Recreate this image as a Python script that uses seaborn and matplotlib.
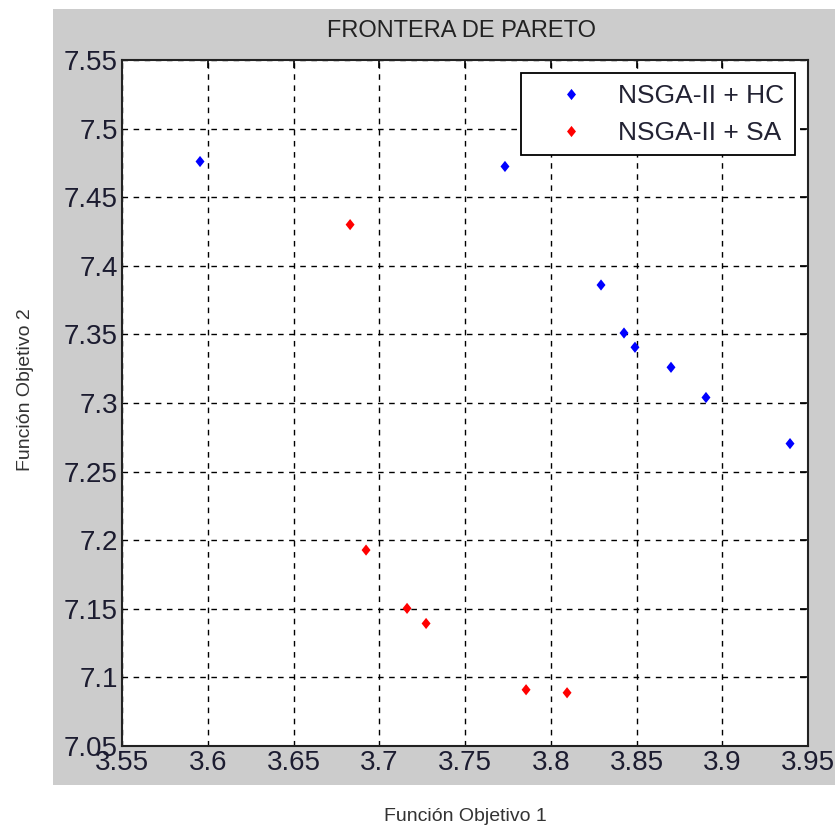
import numpy as np
import pandas as pd
import matplotlib
matplotlib.use('Agg')
import matplotlib.pyplot as plt
from matplotlib.patches import Rectangle
from matplotlib import font_manager
import seaborn as sns

# pareto points
hc_f1 = [3.5955, 3.7733, 3.8293, 3.8427, 3.8491, 3.8701, 3.8905, 3.9395]
hc_f2 = [7.476, 7.4724, 7.386, 7.351, 7.3406, 7.326, 7.304, 7.2704]
sa_f1 = [3.683, 3.6923, 3.7162, 3.7273, 3.7856, 3.8095]
sa_f2 = [7.430, 7.1928, 7.1503, 7.1393, 7.091, 7.0888]
series_names = ['NSGA-II + HC', 'NSGA-II + SA']
series_colors = ['blue', 'red']
x_ticks = [3.55, 3.6, 3.65, 3.7, 3.75, 3.8, 3.85, 3.9, 3.95]
y_ticks = [7.05, 7.1, 7.15, 7.2, 7.25, 7.3, 7.35, 7.4, 7.45, 7.5, 7.55]

df = pd.concat([
    pd.DataFrame({'f1': hc_f1, 'f2': hc_f2, 'metodo': series_names[0]}),
    pd.DataFrame({'f1': sa_f1, 'f2': sa_f2, 'metodo': series_names[1]}),
], ignore_index=True)

sns.set_style('white')
plt.rcParams['font.family'] = ['Liberation Sans', 'DejaVu Sans']

# narrow font for tick labels if there is one
names = {f.name for f in font_manager.fontManager.ttflist}
if 'Liberation Sans Narrow' in names:
    tick_family, tick_size = 'Liberation Sans Narrow', 21
else:
    tick_family, tick_size = 'Liberation Sans', 20

# short, slightly flat diamond like the matlab one
diamond = [(0, 1), (0.8, 0), (0, -1), (-0.8, 0), (0, 1)]

fig = plt.figure(figsize=(8.35, 8.31), dpi=100)
fig.patch.set_facecolor('white')
# matlab-like gray panel behind the axes
panel = Rectangle((0.0635, 0.0554), 0.9365, 0.9338,
                  transform=fig.transFigure, facecolor='#cccccc',
                  edgecolor='none')
panel.set_zorder(-5)
fig.add_artist(panel)

ax = fig.add_axes([0.1461, 0.1023, 0.8216, 0.8255])
ax.set_zorder(2)
ax.set_facecolor('white')

sns.scatterplot(data=df, x='f1', y='f2', hue='metodo',
                palette=dict(zip(series_names, series_colors)),
                marker=diamond, s=65, edgecolor='none', ax=ax, zorder=3)

ax.set_xlim(3.55, 3.95)
ax.set_ylim(7.05, 7.55)
ax.set_xticks(x_ticks)
ax.set_yticks(y_ticks)
ax.set_xticklabels([f'{v:g}' for v in x_ticks], family=tick_family)
ax.set_yticklabels([f'{v:g}' for v in y_ticks], family=tick_family)
ax.grid(True, color='black', linestyle=(0, (4, 4)), linewidth=1.0)
ax.tick_params(direction='in', top=True, right=True, length=6, width=1.2,
               labelsize=tick_size, labelcolor='#1c1c30', pad=3, color='black')
for sp in ax.spines.values():
    sp.set_color('#222222')
    sp.set_linewidth(1.5)

ax.set_xlabel('Función Objetivo 1', fontsize=14, color='#333333')
ax.set_ylabel('Función Objetivo 2', fontsize=14, color='#333333')
ax.xaxis.set_label_coords(0.5, -0.09)
ax.yaxis.set_label_coords(-0.128, 0.52)

fig.text(0.553, 0.963, 'FRONTERA DE PARETO', ha='center', va='center',
         fontsize=17, color='#222222')

leg = ax.legend(loc='upper right', fontsize=19, frameon=True, fancybox=False,
                edgecolor='black', framealpha=1, handlelength=3.0,
                handletextpad=0.3, borderpad=0.4, labelspacing=0.5,
                borderaxespad=0.5, markerscale=1.0)
leg.get_frame().set_linewidth(1.3)
for t in leg.get_texts():
    t.set_color('#222233')

fig.savefig('out.png', dpi=100, facecolor=fig.get_facecolor())
